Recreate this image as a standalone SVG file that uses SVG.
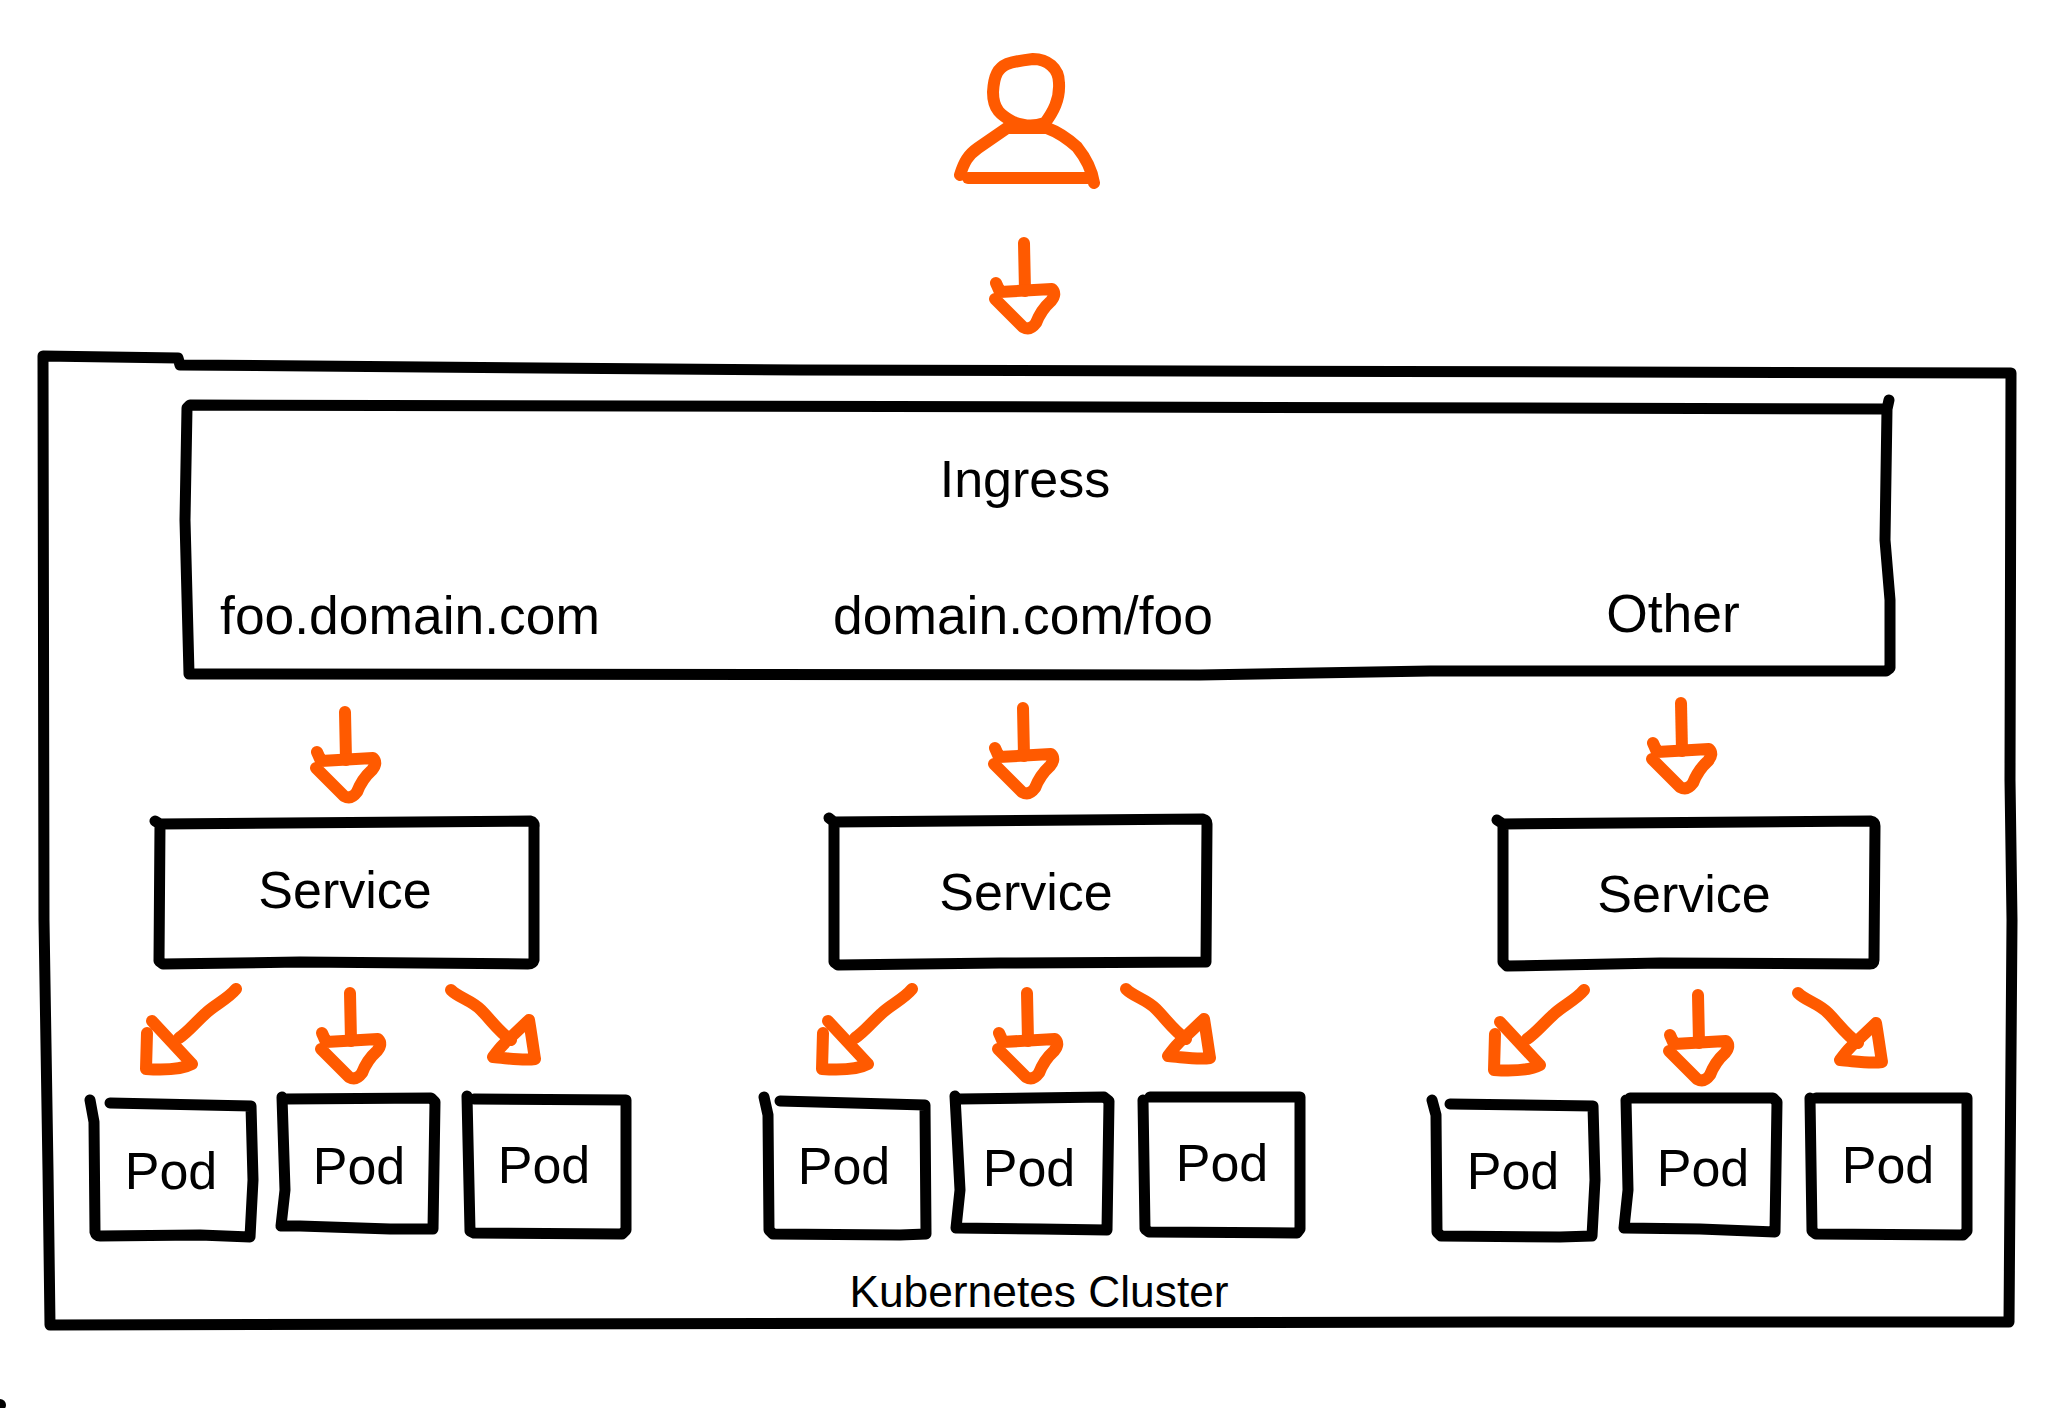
<svg xmlns="http://www.w3.org/2000/svg" width="2048" height="1408" viewBox="0 0 2048 1408">
<style>
.box{fill:none;stroke:#000;stroke-width:11;stroke-linecap:round;stroke-linejoin:round}
.ink{fill:none;stroke:#ff5a00;stroke-width:12;stroke-linecap:round;stroke-linejoin:round}
text{font-family:"Liberation Sans",Arial,sans-serif;fill:#000;text-anchor:middle}
.l{font-size:52px}
.m{font-size:53.4px}
.s{font-size:44.3px}
</style>
<defs>
<g id="down" class="ink"><path d="M0 0L1 48"/><path d="M-28 40L-24 49L28 46Q33 51 27 58Q17 67 12 80Q6 88 -1 84L-29 56"/></g>
<g id="dl" class="ink"><path d="M0 0C-8 10 -22 16 -31 25C-42 35 -48 43 -57 49"/><path d="M-89 44L-90 80C-75 81 -55 81 -44 75L-84 32"/></g>
<g id="dr" class="ink"><path d="M0 0C8 8 20 10 30 20C40 30 48 42 60 50"/><path d="M42 67C56 68 72 71 84 69C82 56 80 42 78 30L58 49C52 54 47 60 42 67Z"/></g>
</defs>
<rect width="2048" height="1408" fill="#fff"/>
<circle cx="0" cy="1405" r="6" fill="#000"/>
<g id="cluster">
<path class="box" d="M43 356L178 358L180 365L800 370L2011 373L2010 780L2012 920L2009 1322L1500 1322L50 1325L48 1170L44 920L43 356Z"/>
<text class="s" x="1039" y="1307">Kubernetes Cluster</text>
</g>
<g id="ingress">
<path class="box" d="M187 408L190 405L1100 407L1887 409L1889 400M1887 409L1885 540L1890 600L1890 668L1886 671L1430 671L1200 675L189 674L185 520L187 408"/>
<text class="l" x="1025" y="497">Ingress</text>
<text class="m" x="410" y="634">foo.domain.com</text>
<text class="m" x="1023" y="634">domain.com/foo</text>
<text class="m" x="1673" y="632">Other</text>
</g>
<g id="user"><path class="ink" d="M1033 59C1047 59 1059 68 1059 83C1060 100 1053 112 1045 123C1035 126 1027 127 1013 122C1001 115 993 110 993 92C994 75 998 68 1007 64C1016 61 1024 60 1033 59Z"/><path class="ink" d="M960 175C964 162 968 155 978 148L1007 128L1047 128C1058 132 1067 138 1077 147C1085 157 1092 170 1094 183"/><path class="ink" d="M968 178L1090 178"/></g>
<g id="service-1"><path class="box" d="M155 821L160 824L530 821Q535 822 534 827L534 960Q533 964 528 964L300 962L163 964L159 961L160 824"/><text class="l" x="345" y="908">Service</text></g>
<g id="service-2"><path class="box" d="M829 818L834 822L1203 819Q1207 820 1207 824L1206 962L1000 963L838 965L834 962L834 822"/><text class="l" x="1026" y="910">Service</text></g>
<g id="service-3"><path class="box" d="M1497 820L1503 824L1870 821Q1875 822 1875 826L1874 960Q1874 964 1870 964L1660 963L1507 966L1503 962L1503 824"/><text class="l" x="1684" y="912">Service</text></g>
<g id="pod-1"><path class="box" d="M90 1100L94 1122L95 1232Q96 1236 100 1236L200 1235L250 1237L253 1180L251 1106L110 1103"/><text class="l" x="171" y="1189">Pod</text></g>
<g id="pod-2"><path class="box" d="M282 1097L285 1190L281 1226L300 1226L390 1229L433 1229L435 1102L431 1098L285 1099"/><text class="l" x="359" y="1184">Pod</text></g>
<g id="pod-3"><path class="box" d="M467 1096L470 1231L474 1233L622 1234L626 1230L626 1100L474 1099"/><text class="l" x="544" y="1183">Pod</text></g>
<g id="pod-4"><path class="box" d="M764 1097L768 1115L769 1230L773 1234L900 1235L926 1234L925 1105L780 1101"/><text class="l" x="844" y="1184">Pod</text></g>
<g id="pod-5"><path class="box" d="M955 1096L960 1190L956 1228L1040 1229L1107 1230L1109 1101L1104 1097L960 1099"/><text class="l" x="1029" y="1186">Pod</text></g>
<g id="pod-6"><path class="box" d="M1143 1100L1145 1229L1149 1232L1297 1233L1300 1229L1300 1097L1150 1097"/><text class="l" x="1222" y="1181">Pod</text></g>
<g id="pod-7"><path class="box" d="M1432 1100L1436 1115L1437 1232L1441 1236L1560 1237L1592 1236L1595 1180L1593 1106L1450 1104"/><text class="l" x="1513" y="1189">Pod</text></g>
<g id="pod-8"><path class="box" d="M1626 1100L1628 1190L1624 1228L1700 1229L1775 1232L1777 1102L1773 1098L1630 1098"/><text class="l" x="1703" y="1186">Pod</text></g>
<g id="pod-9"><path class="box" d="M1810 1098L1812 1231L1816 1234L1963 1235L1967 1231L1967 1098L1816 1098"/><text class="l" x="1888" y="1183">Pod</text></g>
<g id="connectors">
<use href="#down" x="1024" y="243"/>
<use href="#down" x="345" y="712"/>
<use href="#down" x="1023" y="708"/>
<use href="#down" x="1681" y="703"/>
<use href="#down" x="350" y="993"/>
<use href="#down" x="1027" y="993"/>
<use href="#down" x="1698" y="995"/>
<use href="#dl" x="236" y="989"/>
<use href="#dl" x="912" y="989"/>
<use href="#dl" x="1584" y="990"/>
<use href="#dr" x="451" y="990"/>
<use href="#dr" x="1126" y="989"/>
<use href="#dr" x="1798" y="993"/>
</g>
</svg>
